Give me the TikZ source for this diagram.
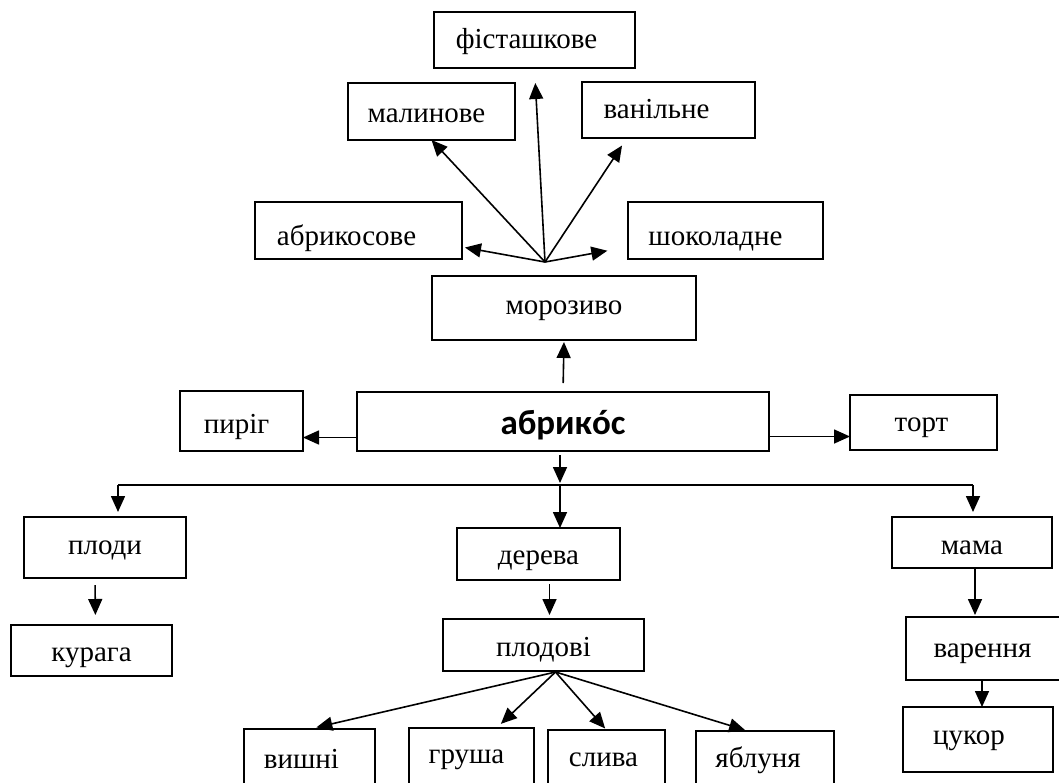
\documentclass[tikz,border=0pt]{standalone}
\usepackage{fontspec}
\setmainfont{Liberation Serif}
\newfontfamily\carlito{Carlito}
\usetikzlibrary{arrows.meta,calc}
\begin{document}
\begin{tikzpicture}[x=1pt,y=-1pt,
  bx/.style 2 args={draw, line width=1.8pt, minimum width=#1, minimum height=#2, inner sep=0pt, outer sep=0pt},
  lbl/.style={font=\fontsize{29}{33}\selectfont, inner sep=0pt, text height=13.3pt, text depth=0pt},
  blbl/.style={font=\carlito\bfseries\fontsize{35}{40}\selectfont, inner sep=0pt, text height=16.3pt, text depth=0pt},
  arr/.style={line width=1.6pt, -{Triangle[length=16pt,width=14pt]}},
  ln/.style={line width=1.7pt}]
\useasboundingbox (0,0) rectangle (1059,782);
\fill[white] (0,0) rectangle (1059,782);

% ice cream flavours
\node[bx={201pt}{56pt}, label={[lbl,xshift=-8pt,yshift=-2pt]center:фісташкове}] (fis) at (534.5,40) {};
\node[bx={167pt}{57pt}, label={[lbl,xshift=-5pt,yshift=-4pt]center:малинове}] (mal) at (431.5,111.5) {};
\node[bx={173pt}{56pt}, label={[lbl,xshift=-12pt,yshift=-2pt]center:ванільне}] (van) at (668.5,110) {};
\node[bx={207pt}{57pt}, label={[lbl,xshift=-12pt,yshift=-8pt]center:абрикосове}] (abr) at (358.5,230.5) {};
\node[bx={195pt}{57pt}, label={[lbl,xshift=-10pt,yshift=-8pt]center:шоколадне}] (shok) at (725.5,230.5) {};
\node[bx={264pt}{64pt}, label={[lbl]center:морозиво}] (moroz) at (564,308) {};

% centre row
\node[bx={412pt}{59pt}, label={[blbl,yshift=-5pt]center:абрикóс}] (abrk) at (563,421.5) {};
\node[bx={123pt}{60pt}, label={[lbl,xshift=-5pt,yshift=-6pt]center:пиріг}] (pyrig) at (241.5,421) {};
\node[bx={147pt}{55pt}, label={[lbl,xshift=-2pt,yshift=-2pt]center:торт}] (tort) at (923.5,422.5) {};

% lower part
\node[bx={162pt}{61pt}, label={[lbl]center:плоди}] (plody) at (105,547.5) {};
\node[bx={161pt}{51pt}, label={[lbl,yshift=-4pt]center:курага}] (kur) at (91.5,650.5) {};
\node[bx={163pt}{52pt}, label={[lbl,yshift=-4pt]center:дерева}] (der) at (538.5,554) {};
\node[bx={201pt}{52pt}, label={[lbl,yshift=-5pt]center:плодові}] (plod) at (543.5,645) {};
\node[bx={160pt}{51pt}, label={[lbl,yshift=-5pt]center:мама}] (mama) at (972,542.5) {};
\node[bx={169pt}{63pt}, label={[lbl,xshift=-8pt,yshift=-2pt]center:варення}] (var) at (990.5,648.5) {};
\node[bx={150pt}{65pt}, label={[lbl,xshift=-9pt,yshift=2pt]center:цукор}] (cuk) at (978,739.5) {};
\node[bx={131pt}{57pt}, label={[lbl,xshift=-8pt,yshift=-4pt]center:вишні}] (vysh) at (309.5,757.5) {};
\node[bx={125pt}{58pt}, label={[lbl,xshift=-5pt]center:груша}] (grusha) at (471.5,757) {};
\node[bx={117pt}{56pt}, label={[lbl,xshift=-3pt,yshift=-2pt]center:слива}] (slyva) at (606.5,758) {};
\node[bx={138pt}{55pt}, label={[lbl,xshift=-7pt,yshift=-2pt]center:яблуня}] (yabl) at (765,758.5) {};

% fan to flavours
\coordinate (mz) at (545,262);
\draw[arr, shorten >=15pt] (mz) -- (fis.south);
\draw[arr] (mz) -- (mal.south);
\draw[arr, shorten >=9pt] (mz) -- ([xshift=45pt]van.south west);
\draw[arr, shorten >=3pt] (mz) -- ([yshift=12pt]abr.south east);
\draw[arr, shorten >=21pt] (mz) -- ([yshift=12pt]shok.south west);

% centre
\draw[arr, shorten <=9pt, shorten >=2pt] (abrk.north) -- (moroz.south);
\coordinate (aw) at ([yshift=-16pt]abrk.west);
\coordinate (ae) at ([yshift=-15pt]abrk.east);
\draw[arr] (aw) -- (aw -| pyrig.east);
\draw[arr] (ae) -- (ae -| tort.west);

% bus
\coordinate (busM) at (560,485);
\coordinate (busL) at (118,485);
\coordinate (busR) at (973,485);
\draw[arr, shorten <=4pt, shorten >=2pt] (busM |- abrk.south) -- (busM);
\draw[ln] (busL) -- (busR);
\draw[arr, shorten >=5pt] (busL) -- (busL |- plody.north);
\draw[arr] (busM) -- (busM |- der.north);
\draw[arr, shorten >=5pt] (busR) -- (busR |- mama.north);

% chains
\draw[arr, shorten <=7pt, shorten >=10pt] ([xshift=-10pt]plody.south) -- ([xshift=4pt]kur.north);
\draw[arr, shorten <=4pt, shorten >=4pt] ([xshift=11pt]der.south) -- ([xshift=6pt]plod.north);
\coordinate (pf) at ([xshift=12pt,yshift=-1pt]plod.south);
\draw[arr, shorten >=7pt] (pf) -- (vysh.north);
\draw[arr, shorten >=6pt] (pf) -- ([xshift=25pt]grusha.north);
\draw[arr, shorten >=2pt] (pf) -- (slyva.north);
\draw[arr, shorten >=3pt] (pf) -- ([xshift=-17pt]yabl.north);
\coordinate (m1) at ([xshift=3pt]mama.south);
\draw[arr, shorten >=2pt] (m1) -- (m1 |- var.north);
\coordinate (c1) at ([xshift=4pt]cuk.north);
\draw[arr] (c1 |- var.south) -- (c1);
\end{tikzpicture}
\end{document}
